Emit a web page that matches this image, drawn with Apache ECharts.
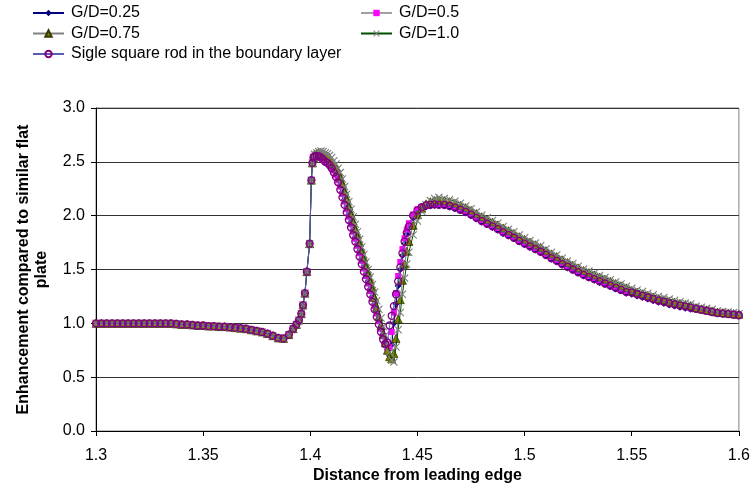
<!DOCTYPE html>
<html>
<head>
<meta charset="utf-8">
<script src="https://cdn.jsdelivr.net/npm/echarts@6/dist/echarts.min.js"></script>
<style>
html,body{margin:0;padding:0;background:#fff;}
#chart{width:753px;height:492px;}
</style>
</head>
<body>
<div id="chart"></div>
<script>
// Distance from leading edge (shared x positions of the sampled points)
const xValues = [
  1.3,1.3025,1.305,1.3075,1.31,1.3125,1.315,1.3175,1.32,1.3225,1.325,1.3275,1.33,1.3325,1.335,
  1.3375,1.34,1.3425,1.345,1.3475,1.35,1.3525,1.355,1.3575,1.36,1.3625,1.365,1.3675,1.37,1.3725,
  1.375,1.3775,1.38,1.3825,1.385,1.3875,1.39,
  1.392,1.3935,1.3947,1.3958,1.3966,1.3975,1.3984,1.3997,1.4005,1.401,1.4015,
  1.402,1.403,1.404,1.405,1.406,1.407,1.408,
  1.409,1.41,1.411,1.412,1.413,1.414,1.415,1.416,1.417,1.418,1.419,1.42,1.421,1.422,1.423,1.424,
  1.425,1.426,1.427,1.428,1.429,1.43,1.431,1.432,1.433,1.434,1.435,1.436,1.437,1.438,1.439,1.44,
  1.441,1.442,1.443,1.444,1.445,
  1.446,1.448,1.45,1.452,1.454,1.456,1.458,1.46,
  1.4625,1.465,1.4675,1.47,1.4725,1.475,1.4775,1.48,1.4825,1.485,1.4875,1.49,1.4925,1.495,1.4975,
  1.5,1.5025,1.505,1.5075,1.51,1.5125,1.515,1.5175,1.52,1.5225,1.525,1.5275,1.53,1.5325,1.535,
  1.5375,1.54,1.5425,1.545,1.5475,1.55,1.5525,1.555,1.5575,1.56,1.5625,1.565,1.5675,1.57,1.5725,
  1.575,1.5775,1.58,1.5825,1.585,1.5875,1.59,1.5925,1.595,1.5975,1.6
];

// Upstream part where all five curves coincide (first 48 points)
const sharedUpstream = [
  1,1,1,1,1,1,1,1,1,1,1,1,1,1,1,
  0.995,0.99,0.99,0.985,0.98,0.98,0.975,0.975,0.97,0.97,0.965,0.96,0.955,0.95,0.94,
  0.93,0.92,0.905,0.885,0.865,0.86,0.895,
  0.95,0.99,1.03,1.09,1.17,1.28,1.48,1.74,2.33,2.49,2.54
];

// Remaining points of each series (108 points each)
const gd025 = [
  2.56,2.565,2.56,2.555,2.54,2.525,2.51,
  2.49,2.46,2.43,2.39,2.34,2.28,2.22,2.15,2.08,2.01,1.94,1.87,1.80,1.74,1.67,1.60,1.53,1.46,1.39,1.32,
  1.25,1.18,1.11,1.04,0.97,0.90,0.83,0.76,0.70,0.80,1.00,1.18,1.35,1.50,1.63,1.74,1.83,
  1.90,1.98,2.03,2.06,2.08,2.09,2.095,2.095,
  2.09,2.08,2.065,2.045,2.025,2.00,1.97,1.94,1.915,1.89,1.865,1.835,1.81,1.785,1.755,
  1.73,1.705,1.68,1.655,1.625,1.595,1.57,1.54,1.515,1.49,1.465,1.44,1.42,1.40,1.38,
  1.36,1.34,1.32,1.30,1.28,1.27,1.255,1.24,1.225,1.21,1.195,1.185,1.17,1.16,1.15,
  1.14,1.13,1.13,1.12,1.11,1.10,1.09,1.085,1.08,1.075,1.07
];
const gd05 = [
  2.56,2.565,2.56,2.55,2.535,2.52,2.50,
  2.48,2.45,2.42,2.38,2.33,2.27,2.20,2.13,2.06,1.99,1.92,1.85,1.785,1.72,1.65,1.58,1.51,1.44,1.37,1.30,
  1.23,1.16,1.09,1.02,0.95,0.88,0.80,0.74,0.78,0.92,1.10,1.28,1.44,1.57,1.69,1.79,1.87,
  1.93,2.01,2.06,2.08,2.10,2.11,2.11,2.11,
  2.11,2.10,2.085,2.065,2.045,2.02,1.99,1.96,1.935,1.91,1.885,1.855,1.83,1.805,1.775,
  1.75,1.725,1.70,1.675,1.645,1.615,1.59,1.56,1.535,1.51,1.485,1.46,1.44,1.42,1.40,
  1.38,1.36,1.34,1.32,1.30,1.29,1.275,1.26,1.245,1.23,1.215,1.205,1.19,1.18,1.17,
  1.16,1.15,1.14,1.13,1.12,1.11,1.10,1.095,1.09,1.085,1.08
];
const gd075 = [
  2.57,2.58,2.585,2.58,2.575,2.565,2.555,
  2.54,2.51,2.48,2.45,2.41,2.36,2.30,2.23,2.16,2.09,2.02,1.95,1.88,1.82,1.75,1.68,1.61,1.54,1.47,1.40,
  1.33,1.24,1.15,1.06,0.98,0.90,0.82,0.75,0.69,0.67,0.72,0.86,1.04,1.22,1.40,1.55,1.67,
  1.76,1.91,2.01,2.07,2.11,2.13,2.14,2.145,
  2.14,2.13,2.115,2.095,2.075,2.05,2.02,1.99,1.965,1.94,1.915,1.885,1.86,1.835,1.805,
  1.78,1.755,1.73,1.705,1.675,1.645,1.62,1.59,1.565,1.54,1.515,1.49,1.47,1.45,1.43,
  1.41,1.39,1.37,1.35,1.33,1.305,1.29,1.275,1.26,1.245,1.23,1.22,1.205,1.195,1.185,
  1.175,1.165,1.145,1.135,1.125,1.115,1.105,1.10,1.095,1.09,1.085
];
const gd10 = [
  2.57,2.585,2.595,2.60,2.595,2.585,2.575,
  2.56,2.54,2.51,2.48,2.44,2.40,2.34,2.27,2.20,2.13,2.06,1.99,1.92,1.85,1.78,1.71,1.64,1.57,1.50,1.43,
  1.36,1.29,1.21,1.13,1.05,0.97,0.89,0.81,0.73,0.66,0.64,0.78,0.94,1.10,1.27,1.42,1.55,
  1.66,1.82,1.95,2.04,2.10,2.14,2.16,2.17,
  2.16,2.15,2.135,2.115,2.09,2.065,2.035,2.005,1.98,1.955,1.93,1.90,1.875,1.85,1.82,
  1.795,1.77,1.745,1.72,1.69,1.66,1.635,1.605,1.58,1.555,1.53,1.505,1.485,1.465,1.445,
  1.425,1.405,1.385,1.365,1.345,1.325,1.31,1.295,1.28,1.265,1.25,1.24,1.225,1.215,1.20,
  1.19,1.18,1.16,1.15,1.14,1.13,1.115,1.11,1.105,1.10,1.09
];
const singleRod = [
  2.55,2.555,2.55,2.54,2.52,2.50,2.49,
  2.47,2.44,2.40,2.36,2.31,2.24,2.17,2.10,2.03,1.96,1.89,1.82,1.76,1.69,1.62,1.55,1.48,1.41,1.34,1.27,
  1.20,1.13,1.06,0.99,0.92,0.85,0.81,0.82,0.98,1.07,1.16,1.27,1.39,1.52,1.65,1.76,1.84,
  1.90,2.00,2.05,2.08,2.095,2.10,2.105,2.10,
  2.10,2.09,2.075,2.055,2.035,2.01,1.98,1.95,1.925,1.90,1.875,1.845,1.82,1.795,1.765,
  1.74,1.715,1.69,1.665,1.635,1.605,1.58,1.55,1.525,1.50,1.475,1.45,1.43,1.41,1.39,
  1.37,1.35,1.33,1.31,1.29,1.285,1.27,1.255,1.24,1.225,1.21,1.20,1.185,1.175,1.165,
  1.155,1.145,1.135,1.125,1.115,1.105,1.095,1.09,1.085,1.08,1.075
];

const seriesNames = ['G/D=0.25','G/D=0.5','G/D=0.75','G/D=1.0','Sigle square rod in the boundary layer'];
const yTicks = [0, 3, 0.5];
const xTicks = [1.3, 1.6, 0.05];

function pairs(own){
  const ys = sharedUpstream.concat(own);
  return xValues.map((x,i)=>[x, ys[i]]);
}

const FONT = 'Liberation Sans';
const crossPath = 'path://M0,1L1,0L5,4L9,0L10,1L6,5L10,9L9,10L5,6L1,10L0,9L4,5Z';

const styles = [
  {data: gd025, symbol:'diamond', symbolSize:7, line:'#000080', item:{color:'#000080'}},
  {data: gd05, symbol:'rect', symbolSize:6, line:'#a0a0a0', item:{color:'#ff00ff'}},
  {data: gd075, symbol:'triangle', symbolSize:8, line:'#808080', item:{color:'#808000', borderColor:'#3a3a00', borderWidth:0.8}},
  {data: gd10, symbol:crossPath, symbolSize:8, line:'#004d00', item:{color:'#808080'}},
  {data: singleRod, symbol:'circle', symbolSize:7, line:'#5a5ab0', item:{color:'rgba(255,255,255,0)', borderColor:'#800080', borderWidth:1.3}}
];

const series = styles.map((s,i)=>({
  name: seriesNames[i],
  type:'line',
  data: pairs(s.data),
  symbol: s.symbol,
  symbolSize: s.symbolSize,
  showAllSymbol: true,
  clip: false,
  lineStyle:{color:s.line, width:1},
  itemStyle: s.item,
  emphasis:{disabled:true},
  z: 2+i
}));

function legendAt(name, left, top){
  return {
    data:[name], left:left, top:top, orient:'horizontal', padding:0,
    itemWidth:31, itemHeight:8, itemGap:0,
    selectedMode:false,
    textStyle:{fontFamily:FONT, fontSize:16, color:'#000', padding:[0,0,0,2]}
  };
}

const chart = echarts.init(document.getElementById('chart'), null, {renderer:'canvas'});
chart.setOption({
  animation:false,
  backgroundColor:'#ffffff',
  legend:[
    legendAt(seriesNames[0], 32, 5),
    legendAt(seriesNames[1], 360, 5),
    legendAt(seriesNames[2], 32, 25.5),
    legendAt(seriesNames[3], 360, 25.5),
    legendAt(seriesNames[4], 32, 46)
  ],
  grid:{left:96, right:13, top:108, bottom:61, show:true, borderColor:'#808080', borderWidth:1, backgroundColor:'transparent'},
  xAxis:{
    type:'value', min:xTicks[0], max:xTicks[1], interval:xTicks[2],
    name:'Distance from leading edge', nameLocation:'middle', nameGap:37, nameMoveOverlap:false,
    nameTextStyle:{fontFamily:FONT, fontSize:16, fontWeight:'bold', color:'#000'},
    axisLine:{show:true, onZero:false, lineStyle:{color:'#000', width:1}},
    axisTick:{show:true, inside:false, length:5, lineStyle:{color:'#000'}},
    axisLabel:{fontFamily:FONT, fontSize:16, color:'#000', margin:17,
      formatter:(v)=>String(+v.toFixed(2))},
    splitLine:{show:false}
  },
  yAxis:{
    type:'value', min:yTicks[0], max:yTicks[1], interval:yTicks[2],
    name:'Enhancement compared to similar flat\nplate', nameLocation:'middle', nameGap:45, nameMoveOverlap:false,
    nameTextStyle:{fontFamily:FONT, fontSize:16, fontWeight:'bold', color:'#000', lineHeight:18},
    axisLine:{show:true, lineStyle:{color:'#000', width:1}},
    axisTick:{show:true, inside:false, length:5, lineStyle:{color:'#000'}},
    axisLabel:{fontFamily:FONT, fontSize:16, color:'#000', margin:11,
      formatter:(v)=>v.toFixed(1)},
    splitLine:{show:true, lineStyle:{color:'#333', width:1}}
  },
  series: series
});
</script>
</body>
</html>
